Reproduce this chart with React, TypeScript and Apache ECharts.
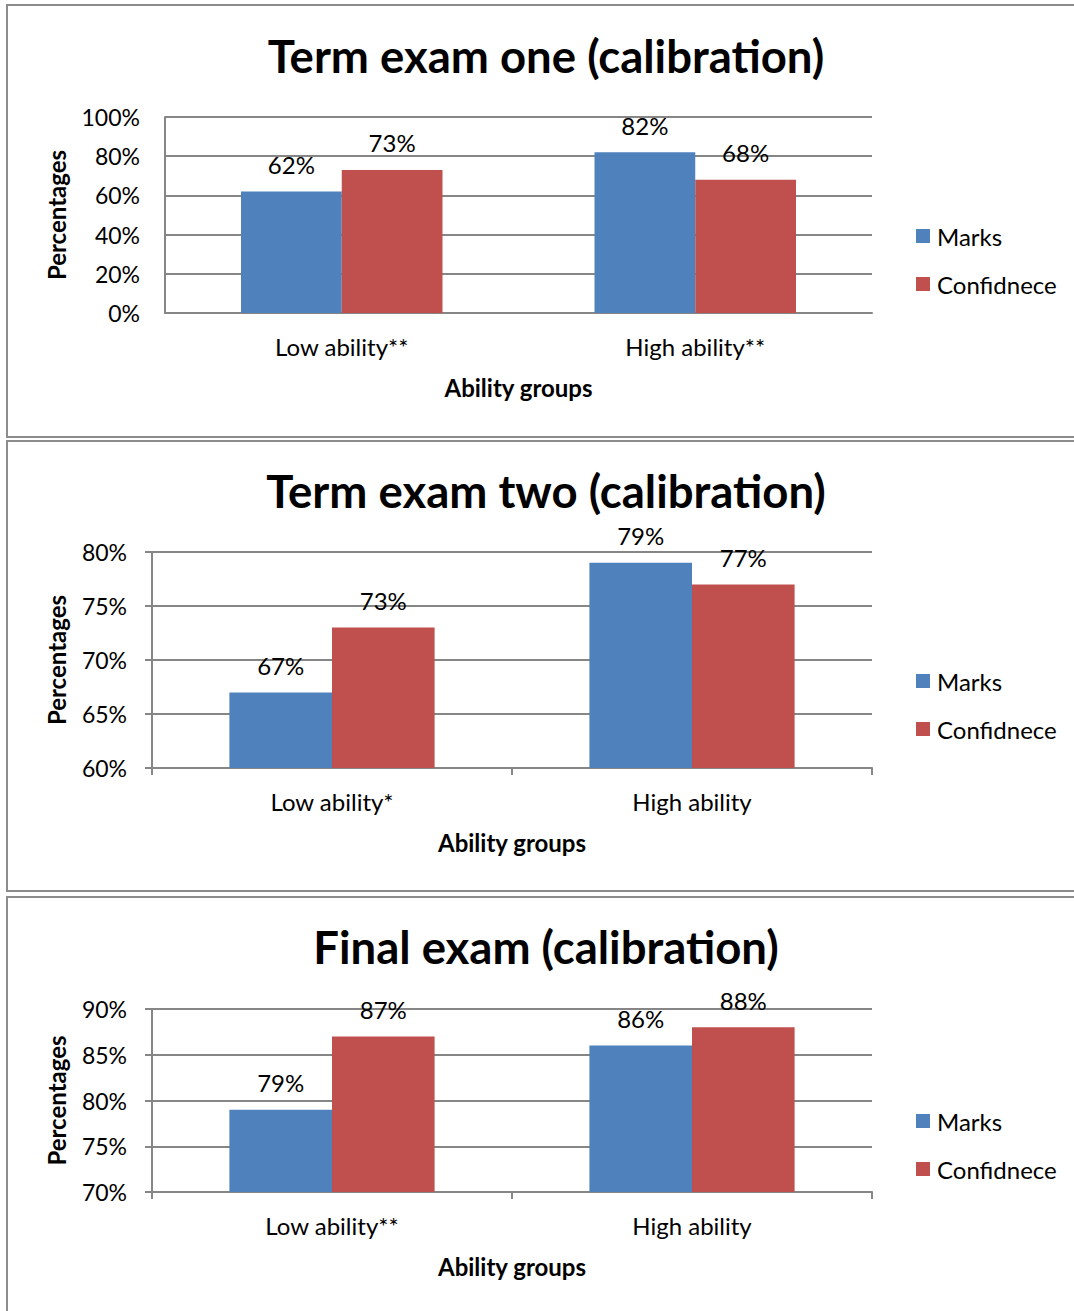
import React, { useEffect, useRef } from "react";
import * as echarts from "echarts";

const seriesNames = ["Marks", "Confidnece"];
const titles = ["Term exam one (calibration)", "Term exam two (calibration)", "Final exam (calibration)"];
const cats1 = ["Low ability**", "High ability**"];
const cats2 = ["Low ability*", "High ability"];
const cats3 = ["Low ability**", "High ability"];
const marks1 = [62, 82];
const conf1 = [73, 68];
const marks2 = [67, 79];
const conf2 = [73, 77];
const marks3 = [79, 86];
const conf3 = [87, 88];
const yRanges = [
  { min: 0, max: 100, interval: 20 },
  { min: 60, max: 80, interval: 5 },
  { min: 70, max: 90, interval: 5 },
];

const BLUE = "#4F81BD";
const RED = "#C0504D";
const GRAY = "#868686";
const FONT = "Lato";

export default function App() {
  const ref = useRef<HTMLDivElement>(null);
  useEffect(() => {
    if (!ref.current) return;
    const chart = echarts.init(ref.current, null, { renderer: "svg" });
    const grids = [
      { left: 165, right: 202, top: 117, height: 196 },
      { left: 152, right: 202, top: 552, height: 216 },
      { left: 152, right: 202, top: 1009, height: 183 },
    ];
    const cats = [cats1, cats2, cats3];
    const marks = [marks1, marks2, marks3];
    const confs = [conf1, conf2, conf3];
    const titleTops = [27, 462, 918];
    const legendTops = [219, 664, 1104];
    const nameGaps = [97, 84, 84];

    const xAxis = cats.map((c, i) => ({
      type: "category",
      gridIndex: i,
      data: c,
      axisLine: { lineStyle: { color: GRAY, width: 2 } },
      axisTick: { show: i > 0, length: 7, lineStyle: { color: GRAY, width: 2 } },
      axisLabel: { color: "#000", fontSize: 24, fontFamily: FONT, margin: 21 },
      name: "Ability groups",
      nameLocation: "middle",
      nameGap: 62,
      nameTextStyle: { color: "#000", fontSize: 24, fontWeight: "bold", fontFamily: FONT },
    }));
    const yAxis = yRanges.map((r, i) => ({
      type: "value",
      gridIndex: i,
      min: r.min,
      max: r.max,
      interval: r.interval,
      axisLine: { show: true, lineStyle: { color: GRAY, width: 2 } },
      axisTick: { show: i > 0, length: 7, lineStyle: { color: GRAY, width: 2 } },
      splitLine: { show: true, lineStyle: { color: GRAY, width: 2 } },
      axisLabel: { color: "#000", fontSize: 23, fontFamily: FONT, margin: 25, formatter: "{value}%" },
      name: "Percentages",
      nameLocation: "middle",
      nameGap: nameGaps[i],
      nameTextStyle: { color: "#000", fontSize: 24, fontWeight: "bold", fontFamily: FONT },
    }));
    const series: any[] = [];
    for (let i = 0; i < 3; i++) {
      [marks[i], confs[i]].forEach((d, k) => {
        series.push({
          type: "bar",
          name: seriesNames[k],
          xAxisIndex: i,
          yAxisIndex: i,
          data: d,
          barGap: "0%",
          barCategoryGap: "43%",
          itemStyle: { color: k === 0 ? BLUE : RED },
          label: {
            show: true,
            position: "top",
            distance: 15,
            formatter: "{c}%",
            color: "#000",
            fontSize: 24,
            fontFamily: FONT,
          },
        });
      });
    }
    chart.setOption({
      animation: false,
      backgroundColor: "#fff",
      title: titles.map((t, i) => ({
        text: t,
        left: 541,
        top: titleTops[i],
        textAlign: "center",
        textStyle: { color: "#000", fontSize: 45.5, fontWeight: "bold", fontFamily: FONT },
      })),
      legend: legendTops.map((top) => ({
        data: seriesNames,
        orient: "vertical",
        left: 911,
        top,
        itemWidth: 14,
        itemHeight: 14,
        itemGap: 24,
        icon: "rect",
        selectedMode: false,
        textStyle: { color: "#000", fontSize: 24, fontFamily: FONT, padding: [0, 0, 0, 2] },
      })),
      grid: grids,
      xAxis,
      yAxis,
      series,
      graphic: [
        { type: "rect", shape: { x: 7, y: 5, width: 1100, height: 432 }, style: { fill: "none", stroke: "#8c8c8c", lineWidth: 2 } },
        { type: "rect", shape: { x: 7, y: 441, width: 1100, height: 450 }, style: { fill: "none", stroke: "#8c8c8c", lineWidth: 2 } },
        { type: "rect", shape: { x: 7, y: 897, width: 1100, height: 500 }, style: { fill: "none", stroke: "#8c8c8c", lineWidth: 2 } },
      ],
    });
    return () => chart.dispose();
  }, []);
  return <div ref={ref} style={{ position: "absolute", left: 0, top: 0, width: 1074, height: 1311 }} />;
}
